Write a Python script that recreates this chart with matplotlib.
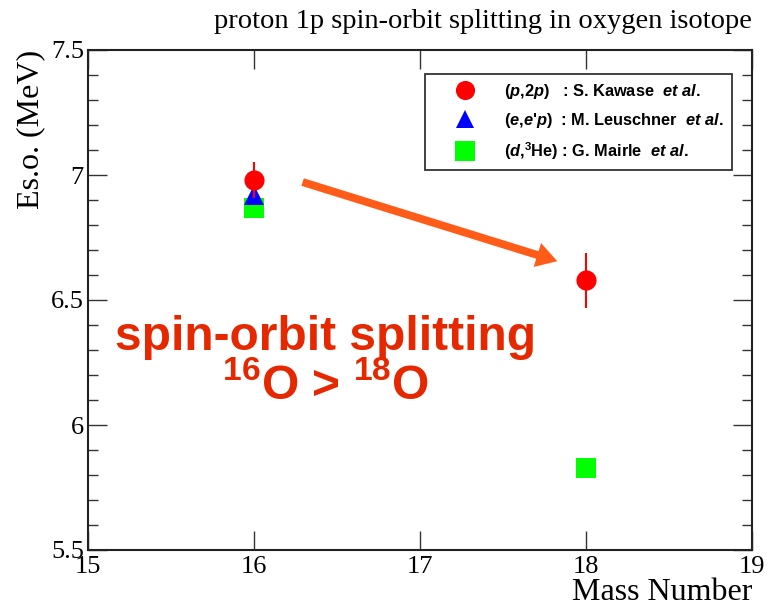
import matplotlib
matplotlib.use("Agg")
import matplotlib.pyplot as plt
from matplotlib.ticker import MultipleLocator, FormatStrFormatter
from matplotlib.patches import FancyArrowPatch

# --- data ---
mass_pp = [16, 18]
eso_pp = [6.98, 6.58]
err_pp = [0.07, 0.11]

mass_eep = [16]
eso_eep = [6.92]

mass_dhe = [16, 18]
eso_dhe = [6.87, 5.83]

lab_pp = r"($\mathit{p}$,2$\mathit{p}$)   : S. Kawase  $\mathit{et\ al.}$"
lab_eep = r"($\mathit{e}$,$\mathit{e}$'$\mathit{p}$)  : M. Leuschner  $\mathit{et\ al.}$"
lab_dhe = r"($\mathit{d}$,$^{3}$He) : G. Mairle  $\mathit{et\ al.}$"

plt.rcParams["mathtext.fontset"] = "custom"
plt.rcParams["mathtext.it"] = "Liberation Sans:italic:bold"
plt.rcParams["mathtext.rm"] = "Liberation Sans:bold"

fig = plt.figure(figsize=(7.67, 6.06), dpi=100)
ax = fig.add_axes([88 / 767, 1 - 550 / 606, 664 / 767, 500 / 606])

ax.plot(mass_dhe, eso_dhe, "s", color="#00ff00", ms=14.5, mew=0, label=lab_dhe, zorder=3)
ax.plot(mass_eep, eso_eep, "^", color="#0000ff", ms=14, mew=0, label=lab_eep, zorder=4)
ax.errorbar(mass_pp, eso_pp, yerr=err_pp, fmt="o", color="#ff0000", ms=14.5, mew=0,
            elinewidth=1.5, capsize=4, capthick=1.5, label=lab_pp, zorder=5)

ax.set_xlim(15, 19)
ax.set_ylim(5.5, 7.5)
ax.xaxis.set_major_locator(MultipleLocator(1))
ax.yaxis.set_major_locator(MultipleLocator(0.5))
ax.yaxis.set_minor_locator(MultipleLocator(0.1))
ax.yaxis.set_major_formatter(FormatStrFormatter("%g"))
ax.tick_params(which="both", direction="in", top=True, right=True, width=1, colors="#333333",
               labelcolor="black", labelsize=19)
ax.tick_params(axis="y", which="major", length=14, pad=3)
ax.tick_params(axis="y", which="minor", length=7.5)
ax.tick_params(axis="x", which="major", length=14, pad=4)
for lbl in ax.get_xticklabels() + ax.get_yticklabels():
    lbl.set_fontfamily("Liberation Serif")
for sp in ax.spines.values():
    sp.set_linewidth(1.5)
    sp.set_color("#222222")

ax.set_xlabel("Mass Number", fontsize=23, family="Liberation Serif", ha="right", va="baseline")
ax.xaxis.set_label_coords(1.0, -0.1)
ax.set_ylabel("Es.o. (MeV)", fontsize=23, family="Liberation Serif", loc="top", labelpad=4)
fig.text(752 / 767, 1 - 22 / 606, "proton 1p spin-orbit splitting in oxygen isotope",
         fontsize=20.5, family="Liberation Serif", ha="right", va="center")

# legend order: (p,2p), (e,e'p), (d,3He)
h, l = ax.get_legend_handles_labels()
order = [2, 1, 0]
leg = ax.legend([h[i] for i in order], [l[i] for i in order], loc="upper right",
                bbox_to_anchor=(732 / 767, 1 - 74 / 606), bbox_transform=fig.transFigure,
                prop={"family": "Liberation Sans", "weight": "bold", "size": 11.8},
                fancybox=False, framealpha=1, edgecolor="#333333", borderpad=0.5,
                handlelength=3.8, handletextpad=0.5, labelspacing=0.6,
                borderaxespad=0, markerscale=0.95)
leg.get_frame().set_linewidth(1.3)

# arrow between the (p,2p) points
arrow = FancyArrowPatch((16.277, 6.975), (17.843, 6.652),
                        arrowstyle="simple,head_length=0.5,head_width=0.6,tail_width=0.19",
                        mutation_scale=30, color="#ff5c1a", lw=0, zorder=2)
ax.add_patch(arrow)

ax.text(16.43, 6.35, "spin-orbit splitting", fontsize=34.5, fontweight="bold",
        family="Liberation Sans", color="#e52800", ha="center", va="center")
ax.text(16.43, 6.155, r"$^{16}$O > $^{18}$O", fontsize=34.5, fontweight="bold",
        family="Liberation Sans", color="#e52800", ha="center", va="center")

fig.savefig("out.png", dpi=100)
